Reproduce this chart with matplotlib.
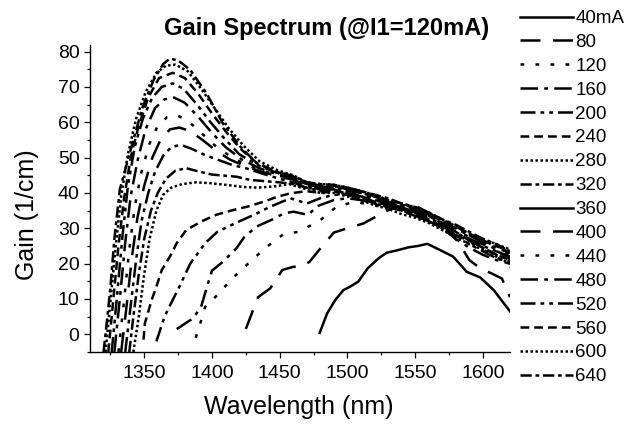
import matplotlib
matplotlib.use('Agg')
import matplotlib.pyplot as plt
from matplotlib.lines import Line2D
from matplotlib.ticker import MultipleLocator

plt.rcParams['font.family'] = ['Liberation Sans', 'DejaVu Sans']

# legend labels (pump current on section 2)
labels = ['40mA', '80', '120', '160', '200', '240', '280', '320',
          '360', '400', '440', '480', '520', '560', '600', '640']

# common long-wavelength part of the high-current bundle
wl_tail = [1470, 1480, 1490, 1500, 1510, 1520, 1530, 1540,
           1550, 1560, 1570, 1580, 1590, 1600, 1610, 1620]

# wavelength (nm) and gain (1/cm)
wl_40 = [1479.5, 1485, 1491, 1497, 1502, 1508, 1515, 1523, 1529, 1536,
         1545, 1552, 1559, 1566, 1578, 1588, 1598, 1608, 1620]
g_40 = [0.4, 5.9, 9.7, 12.5, 13.5, 14.9, 18.7, 21.5, 23.1, 23.7,
        24.6, 25.0, 25.6, 24.3, 22.0, 17.7, 16.1, 12.5, 6.5]

wl_80 = [1425, 1429, 1434, 1443, 1452, 1460, 1466, 1472, 1480, 1490, 1500,
         1512, 1522, 1532, 1542, 1552, 1562, 1572, 1582, 1590, 1598, 1606,
         1614, 1620]
g_80 = [1.5, 5.5, 10.5, 13.0, 18.2, 19.1, 19.2, 20.5, 24.3, 28.8, 30.0,
        31.4, 33.5, 35.5, 36.5, 36.0, 34.0, 30.5, 26.0, 21.0, 18.7, 17.3,
        15.8, 10.5]

wl_120 = [1388, 1391, 1395, 1404, 1415, 1427, 1439, 1453, 1464, 1480, 1492,
          1505, 1520, 1535, 1550, 1565, 1580, 1595, 1610, 1620]
g_120 = [-1.0, 2.6, 7.8, 11.1, 15.8, 20.1, 24.3, 28.4, 29.0, 32.3, 36.1,
         37.5, 36.5, 35.5, 34.0, 32.0, 29.0, 25.0, 22.0, 19.0]

wl_160 = [1374, 1386, 1392, 1396, 1400, 1408, 1418, 1424, 1433, 1444, 1453,
          1460, 1471, 1478, 1490, 1500, 1510, 1520, 1530, 1540, 1550, 1560,
          1570, 1580, 1590, 1600, 1610, 1620]
g_160 = [1.5, 4.5, 7.8, 13.0, 18.0, 20.5, 24.3, 27.6, 30.5, 32.4, 34.2,
         34.7, 33.8, 36.3, 38.0, 38.5, 38.0, 37.0, 36.0, 35.0, 33.5, 32.0,
         30.0, 27.0, 24.5, 22.5, 21.0, 20.0]

wl_200 = [1359, 1365, 1368, 1376, 1384, 1395, 1404, 1417, 1432, 1443, 1458,
          1470, 1480, 1490, 1500, 1510, 1520, 1530, 1540, 1550, 1560, 1570,
          1580, 1590, 1600, 1610, 1620]
g_200 = [-2.0, 5.0, 7.4, 13.5, 20.0, 25.8, 29.0, 31.4, 34.0, 36.1, 38.5,
         37.0, 38.5, 39.5, 39.5, 38.5, 37.5, 36.5, 35.5, 34.0, 32.5, 30.5,
         28.0, 25.5, 23.5, 21.5, 20.5]

wl_240 = [1349.5, 1350.5, 1355.5, 1359, 1363, 1369, 1374, 1381, 1392, 1403,
          1416, 1426, 1438, 1448, 1458] + wl_tail
g_240 = [-1.5, 3.1, 9.7, 13.5, 18.2, 22.0, 25.8, 29.5, 31.9, 33.8,
         35.2, 36.1, 37.5, 38.9, 39.9,
         40.5, 40.0, 40.5, 40.0, 39.0, 38.0, 37.0, 36.0, 34.5, 33.5, 31.5,
         29.0, 26.5, 24.5, 22.5, 21.0]

wl_280 = [1342, 1346, 1350, 1354, 1359, 1364, 1370, 1378, 1388, 1398, 1410,
          1423, 1433, 1445, 1457] + wl_tail
g_280 = [-5, 5, 17, 27, 35, 39.5, 41.5, 42.5, 43.0, 42.8, 42.3,
         41.7, 41.5, 41.8, 42.5,
         41.0, 40.0, 40.0, 39.0, 38.0, 36.5, 35.5, 34.0, 33.0, 31.5, 29.5,
         27.5, 25.5, 24.0, 22.0, 20.0]

wl_320 = [1339, 1342, 1346, 1350, 1355, 1360, 1366, 1373, 1381, 1389, 1400,
          1418, 1428, 1440, 1450, 1460] + wl_tail
g_320 = [-5, 5, 17, 27, 35, 40, 44, 46.3, 47.0, 46.2, 45.2,
         44.6, 43.7, 43.3, 43.0, 42.5,
         41.5, 40.5, 40.5, 39.5, 38.5, 37.0, 36.0, 35.0, 33.5, 32.0, 30.0,
         28.0, 26.5, 24.5, 22.5, 21.0]

wl_360 = [1336, 1340, 1344, 1348, 1353, 1358, 1364, 1370, 1377, 1385, 1395,
          1405, 1415, 1425, 1437, 1450, 1460] + wl_tail
g_360 = [-5, 8, 21, 32, 40, 46, 50.5, 53.0, 53.6, 52.5, 50.7,
         49.3, 47.9, 47.0, 45.5, 44.0, 43.0,
         41.5, 41.0, 41.0, 40.0, 39.0, 37.5, 36.5, 35.5, 34.0, 32.5, 30.5,
         28.5, 27.0, 25.0, 23.5, 21.5]

wl_400 = [1333, 1337, 1341, 1345, 1350, 1356, 1362, 1369, 1376, 1384, 1393,
          1403, 1413, 1425, 1437, 1450, 1460] + wl_tail
g_400 = [-5, 8, 22, 33, 42, 50, 55, 58.0, 58.5, 57.5, 55.0,
         52.0, 49.5, 47.5, 46.0, 44.5, 43.8,
         42.0, 41.0, 41.5, 40.5, 39.0, 38.0, 37.0, 35.5, 34.5, 33.0, 31.0,
         29.0, 27.0, 25.5, 23.5, 22.0]

wl_440 = [1331, 1335, 1339, 1343, 1348, 1354, 1360, 1367, 1374, 1382, 1392,
          1402, 1413, 1425, 1437, 1450, 1460] + wl_tail
g_440 = [-5, 9, 24, 36, 46, 54, 59, 61.5, 62.0, 60.5, 57.0,
         53.5, 50.5, 48.0, 46.3, 44.8, 44.0,
         42.0, 41.5, 41.5, 40.5, 39.5, 38.5, 37.0, 36.0, 35.0, 33.5, 31.5,
         29.5, 27.5, 26.0, 24.0, 22.5]

wl_480 = [1328, 1332, 1336, 1340, 1345, 1351, 1358, 1365, 1372, 1380, 1390,
          1400, 1410, 1422, 1435, 1448, 1460] + wl_tail
g_480 = [-5, 10, 26, 39, 49, 58, 64, 66.5, 67.0, 65.5, 61.5,
         57.0, 53.0, 49.5, 47.0, 45.3, 44.2,
         42.5, 41.5, 42.0, 41.0, 40.0, 38.5, 37.5, 36.5, 35.0, 33.5, 31.5,
         30.0, 28.0, 26.0, 24.5, 23.0]

wl_520 = [1326, 1330, 1334, 1338, 1343, 1349, 1356, 1363, 1371, 1379, 1389,
          1399, 1409, 1420, 1433, 1447, 1460] + wl_tail
g_520 = [-5, 11, 28, 42, 53, 61, 67, 70.0, 71.0, 69.5, 65.0,
         60.0, 55.5, 51.0, 48.0, 45.8, 44.5,
         42.5, 42.0, 42.0, 41.0, 40.0, 39.0, 37.5, 36.5, 35.5, 34.0, 32.0,
         30.0, 28.0, 26.5, 25.0, 23.0]

wl_560 = [1323.5, 1327, 1331, 1335, 1340, 1346, 1353, 1361, 1371, 1380, 1390,
          1400, 1410, 1421, 1433, 1447, 1460] + wl_tail
g_560 = [-5, 9, 25, 38, 50, 59, 67, 72.5, 74.0, 72.5, 68.0,
         62.5, 57.5, 52.5, 48.5, 46.0, 44.6,
         43.0, 42.0, 42.0, 41.5, 40.5, 39.0, 38.0, 37.0, 35.5, 34.0, 32.5,
         30.5, 28.5, 26.5, 25.0, 23.5]

wl_600 = [1321.5, 1325, 1329, 1333, 1338, 1344, 1351, 1359, 1366, 1373, 1382,
          1392, 1402, 1412, 1423, 1435, 1448, 1460] + wl_tail
g_600 = [-5, 9, 25, 39, 51, 61, 68.5, 74.0, 76.0, 76.3, 74.5,
         69.5, 64.0, 58.5, 53.5, 49.0, 46.5, 45.0,
         43.0, 42.5, 42.3, 41.5, 40.5, 39.5, 38.0, 37.0, 36.0, 34.5, 32.5,
         30.5, 28.5, 27.0, 25.5, 24.0]

wl_640 = [1320, 1322, 1325, 1328, 1332, 1342, 1349, 1357, 1364, 1369, 1375,
          1384, 1396, 1408, 1421, 1433, 1448, 1460] + wl_tail
g_640 = [-5, 2, 13, 27, 41, 55, 64.5, 72.0, 76.5, 78.0, 77.5,
         74.8, 68.2, 59.7, 53.1, 48.4, 46.0, 44.8,
         43.0, 42.5, 42.3, 41.5, 40.5, 39.5, 38.5, 37.0, 36.0, 34.5, 32.5,
         31.0, 29.0, 27.0, 25.5, 23.5]

wls = [wl_40, wl_80, wl_120, wl_160, wl_200, wl_240, wl_280, wl_320,
       wl_360, wl_400, wl_440, wl_480, wl_520, wl_560, wl_600, wl_640]
gains = [g_40, g_80, g_120, g_160, g_200, g_240, g_280, g_320,
         g_360, g_400, g_440, g_480, g_520, g_560, g_600, g_640]

# Origin-like line style cycle (solid, dash, dot, dash dot, dash dot dot,
# short dash, short dot, short dash dot), used twice
solid = '-'
dash = (0, (8, 5))
dot = (0, (1.5, 4.5))
dash_dot = (0, (7, 2.5, 1.5, 2.5))
dash_dot_dot = (0, (6, 2, 1.5, 2, 1.5, 2))
short_dash = (0, (3.5, 2))
short_dot = (0, (1, 1))
short_dash_dot = (0, (4.5, 1.5, 1.5, 1.5))
legend_styles = [solid, dash, dot, dash_dot, dash_dot_dot, short_dash,
                 short_dot, short_dash_dot] * 2
# in the picture the 360 hump is drawn broken, not solid
plot_styles = list(legend_styles)
plot_styles[8] = dash_dot_dot

fig = plt.figure(figsize=(6.28, 4.24), dpi=100)
ax = fig.add_axes([90/628, 1-352/424, 420/628, 307.5/424])

for wl, g, ls in zip(wls, gains, plot_styles):
    ax.plot(wl, g, color='black', lw=1.8, linestyle=ls)

ax.set_xlim(1310, 1620)
ax.set_ylim(-5, 82)
ax.set_xticks([1350, 1400, 1450, 1500, 1550, 1600])
ax.set_yticks([0, 10, 20, 30, 40, 50, 60, 70, 80])
ax.xaxis.set_minor_locator(MultipleLocator(25))
ax.yaxis.set_minor_locator(MultipleLocator(5))
ax.tick_params(which='major', direction='out', length=4.5, width=0.9,
               labelsize=14, pad=3)
ax.tick_params(which='minor', direction='out', length=2.5, width=0.9)
ax.tick_params(axis='x', which='major', pad=5)
for side in ['top', 'right']:
    ax.spines[side].set_visible(False)
for side in ['left', 'bottom']:
    ax.spines[side].set_linewidth(1.0)

fig.text(327/628, 1-29/424, 'Gain Spectrum (@I1=120mA)', ha='center',
         va='center', fontsize=17, fontweight='bold')
fig.text(299/628, 1-407/424, 'Wavelength (nm)', ha='center', va='center',
         fontsize=18)
fig.text(27/628, 1-215/424, 'Gain (1/cm)', ha='center', va='center',
         rotation=90, fontsize=18)

handles = [Line2D([], [], color='black', lw=1.8, linestyle=ls)
           for ls in legend_styles]
fig.legend(handles, labels, loc='upper left',
           bbox_to_anchor=(520/628, 1-10/424), frameon=False,
           fontsize=13.5, handlelength=2.85, handletextpad=0.1,
           labelspacing=0.36, borderpad=0, borderaxespad=0)

fig.savefig('out.png', dpi=100)
